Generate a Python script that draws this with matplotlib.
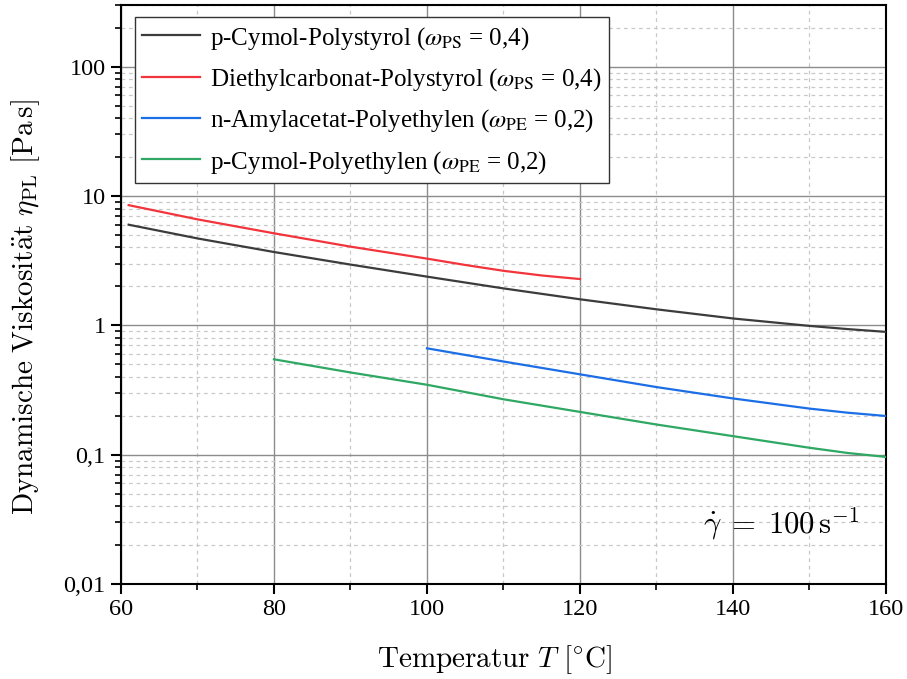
import matplotlib
matplotlib.use("Agg")
import matplotlib.pyplot as plt
import matplotlib.ticker as mticker
from matplotlib.font_manager import FontProperties
import numpy as np

# ---- data ----
T_cym_ps = [61, 70, 80, 90, 100, 110, 120, 130, 140, 150, 155, 160]
eta_cym_ps = [6.0, 4.7, 3.69, 2.95, 2.38, 1.93, 1.59, 1.33, 1.13, 0.99, 0.935, 0.89]

T_dec_ps = [61, 70, 80, 90, 100, 105, 110, 115, 120]
eta_dec_ps = [8.5, 6.6, 5.15, 4.06, 3.28, 2.93, 2.64, 2.43, 2.28]

T_amy_pe = [100, 110, 120, 130, 140, 150, 155, 160]
eta_amy_pe = [0.664, 0.525, 0.418, 0.333, 0.272, 0.227, 0.211, 0.199]

T_cym_pe = [80, 90, 100, 110, 120, 130, 140, 150, 155, 160]
eta_cym_pe = [0.546, 0.432, 0.347, 0.268, 0.214, 0.171, 0.139, 0.113, 0.103, 0.096]

labels = [
    r"p-Cymol-Polystyrol ($\omega_{\mathrm{PS}}$ = 0,4)",
    r"Diethylcarbonat-Polystyrol ($\omega_{\mathrm{PS}}$ = 0,4)",
    r"n-Amylacetat-Polyethylen ($\omega_{\mathrm{PE}}$ = 0,2)",
    r"p-Cymol-Polyethylen ($\omega_{\mathrm{PE}}$ = 0,2)",
]
colors = ["#3c3c3c", "#f2343c", "#1c6ee6", "#2ea862"]

x_ticks = [60, 80, 100, 120, 140, 160]
y_ticks = [0.01, 0.1, 1, 10, 100]
y_ticklabels = ["0,01", "0,1", "1", "10", "100"]

plt.rcParams["mathtext.fontset"] = "cm"
plt.rcParams["font.family"] = ["Liberation Serif", "DejaVu Serif"]

fig = plt.figure(figsize=(9.07, 6.79), dpi=100)
ax = fig.add_axes([0.1334, 0.140, 0.8434, 0.8526])

series = [(T_cym_ps, eta_cym_ps), (T_dec_ps, eta_dec_ps),
          (T_amy_pe, eta_amy_pe), (T_cym_pe, eta_cym_pe)]
for (t, e), lab, c in zip(series, labels, colors):
    ax.plot(t, e, color=c, lw=1.6, label=lab, zorder=3)

ax.set_yscale("log")
ax.set_xlim(60, 160)
ax.set_ylim(0.01, 300)
ax.set_xticks(x_ticks)
ax.xaxis.set_minor_locator(mticker.MultipleLocator(10))
ax.yaxis.set_major_locator(mticker.FixedLocator(y_ticks))
ax.yaxis.set_major_formatter(mticker.FixedFormatter(y_ticklabels))
ax.yaxis.set_minor_locator(mticker.LogLocator(base=10, subs=np.arange(2, 10), numticks=20))
ax.yaxis.set_minor_formatter(mticker.NullFormatter())

ax.grid(True, which="major", color="#8c8c8c", lw=1.0, ls="-", zorder=1)
ax.grid(True, which="minor", color="#c8c8c8", lw=0.9, ls=(0, (3, 3)), zorder=1)
ax.set_axisbelow(True)

for s in ax.spines.values():
    s.set_linewidth(1.5)
    s.set_color("black")
ax.tick_params(which="major", direction="out", length=7, width=1.5, labelsize=17.5, pad=4)
ax.tick_params(which="minor", direction="out", length=4, width=1.2)

ax.set_xlabel(r"$\mathrm{Temperatur}\ T\ [^{\circ}\mathrm{C}]$", fontsize=21)
ax.xaxis.set_label_coords(0.489, -0.131)
ax.set_ylabel(r"$\mathrm{Dynamische\ Viskosit\ddot{a}t}\ \eta_{\mathrm{PL}}\ [\mathrm{Pa\,s}]$",
              fontsize=21)
ax.yaxis.set_label_coords(-0.125, 0.478)
ax.xaxis.label.set_va("center")
ax.yaxis.label.set_va("center")

ax.text(0.965, 0.105, r"$\dot{\gamma}\;=\;100\,\mathrm{s}^{-1}$", transform=ax.transAxes,
        ha="right", va="center", fontsize=22)

prop = FontProperties(family="Liberation Serif", size=18, math_fontfamily="stix")
leg = ax.legend(loc="upper left", bbox_to_anchor=(0.0183, 0.979), prop=prop,
                fancybox=False, framealpha=1, edgecolor="#333333",
                handlelength=2.3, handletextpad=0.4, borderpad=0.3, labelspacing=0.58,
                borderaxespad=0)
leg.get_frame().set_linewidth(1.0)

fig.savefig("out.png", dpi=100)
